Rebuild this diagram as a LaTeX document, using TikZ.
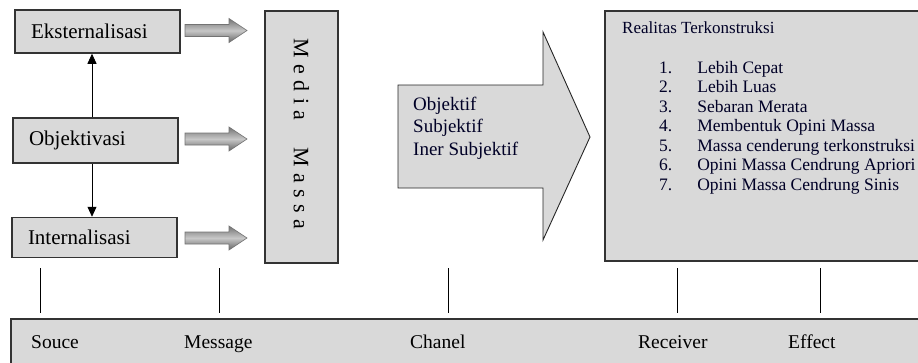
\documentclass[tikz,border=0pt]{standalone}
\usepackage{fontspec}
\setmainfont{Liberation Serif}
\usetikzlibrary{arrows.meta}
\newcommand\mmgap{\hspace{6.5pt}}
\tikzset{
  box/.style={draw=black!80, line width=1.5pt, fill=gray!30},
  lbl/.style={font=\fontsize{21}{25}\selectfont, text=black!85!blue, inner sep=0pt},
  boxlbl/.style={box, font=\fontsize{21}{25}\selectfont, align=left, inner xsep=16pt, inner ysep=0pt},
  garrow/.style={draw=black!55, line width=0.6pt, top color=black!55, bottom color=black!60, middle color=black!22},
  tickline/.style={line width=0.9pt, black},
  varrow/.style={line width=0.8pt, -{Triangle[length=10pt,width=9pt]}},
  bottomlbl/.style={font=\fontsize{19.5}{22}\selectfont, inner sep=0pt, anchor=base west},
  listfont/.style={font=\fontsize{17.5}{19.5}\selectfont, inner sep=0pt},
}
\begin{document}
\begin{tikzpicture}[x=1pt,y=-1pt]
\useasboundingbox (0,0) rectangle (918,362);

% left boxes
\node[boxlbl, minimum width=165, minimum height=43, text width=133] (eks) at (97.5,31.5) {Eksternalisasi};
\node[boxlbl, minimum width=165, minimum height=45, text width=133] (obj) at (95.5,140.5) {Objektivasi};
\node[boxlbl, minimum width=165, minimum height=40, text width=133] (int) at (94.5,237.5) {Internalisasi};

\coordinate (vx) at (92,0);
\draw[varrow] (obj.north -| vx) -- (eks.south -| vx);
\draw[varrow] (obj.south -| vx) -- (int.north -| vx);

% small shaded arrows
\foreach \n/\y in {a1/30.5, a2/139, a3/238}{
  \draw[garrow] (185,\y-6) -- (229,\y-6) -- (229,\y-12) -- (247,\y) -- (229,\y+12) -- (229,\y+6) -- (185,\y+6) -- cycle;
  \coordinate (\n) at (247,\y);
}

% Media Massa
\node[box, minimum width=73, minimum height=252, inner sep=0pt] (media) at (301.5,137) {};
\node[rotate=-90, font=\fontsize{22}{26}\selectfont, inner sep=0pt] (mediatxt) at (301.5,134)
  {M\mmgap e\mmgap d\mmgap i\mmgap a\hspace{27pt}M\mmgap a\mmgap s\mmgap s\mmgap a};

% big arrow
\draw[fill=gray!30, draw=black!85, line width=0.9pt]
  (398,85) -- (543,85) -- (543,32) -- (590,137) -- (543,240) -- (543,188) -- (398,188) -- cycle;
\coordinate (bigarrow) at (494,137);
\node[lbl, font=\fontsize{19}{22}\selectfont, anchor=base west] (ch1) at (413,110) {Objektif};
\node[lbl, font=\fontsize{19}{22}\selectfont, anchor=base west] (ch2) at (413,132.5) {Subjektif};
\node[lbl, font=\fontsize{19}{22}\selectfont, anchor=base west] (ch3) at (413,155) {Iner Subjektif};

% right box
\node[box, anchor=north west, minimum width=340, minimum height=250, inner sep=0pt] (recv) at (604,10) {};
\node[lbl, font=\fontsize{17}{20}\selectfont, anchor=base west] (rt) at (622,33) {Realitas Terkonstruksi};
\node[listfont, text=black!85!blue, anchor=base west] (list) at (659,73)
 {\begin{tabular}[t]{@{}r@{\hspace{25pt}}l@{}}
 1. & Lebih Cepat\\
 2. & Lebih Luas\\
 3. & Sebaran Merata\\
 4. & Membentuk Opini Massa\\
 5. & Massa cenderung terkonstruksi\\
 6. & Opini Massa Cendrung Apriori\\
 7. & Opini Massa Cendrung Sinis
 \end{tabular}};

% bottom bar
\node[box, anchor=north west, minimum width=930, minimum height=60, inner sep=0pt] (bar) at (10,318) {};
\node[bottomlbl] (souce) at (31,348) {Souce};
\node[bottomlbl] (msg) at (184,348) {Message};
\node[bottomlbl] (chan) at (410,348) {Chanel};
\node[bottomlbl] (rcv) at (638,348) {Receiver};
\node[bottomlbl] (eff) at (788,348) {Effect};

% ticks
\foreach \n/\x in {t1/40, t2/219, t3/448, t4/677, t5/820}{
  \coordinate (\n a) at (\x,268);
  \coordinate (\n b) at (\x,313);
  \draw[tickline] (\n a) -- (\n b);
}
\end{tikzpicture}
\end{document}
